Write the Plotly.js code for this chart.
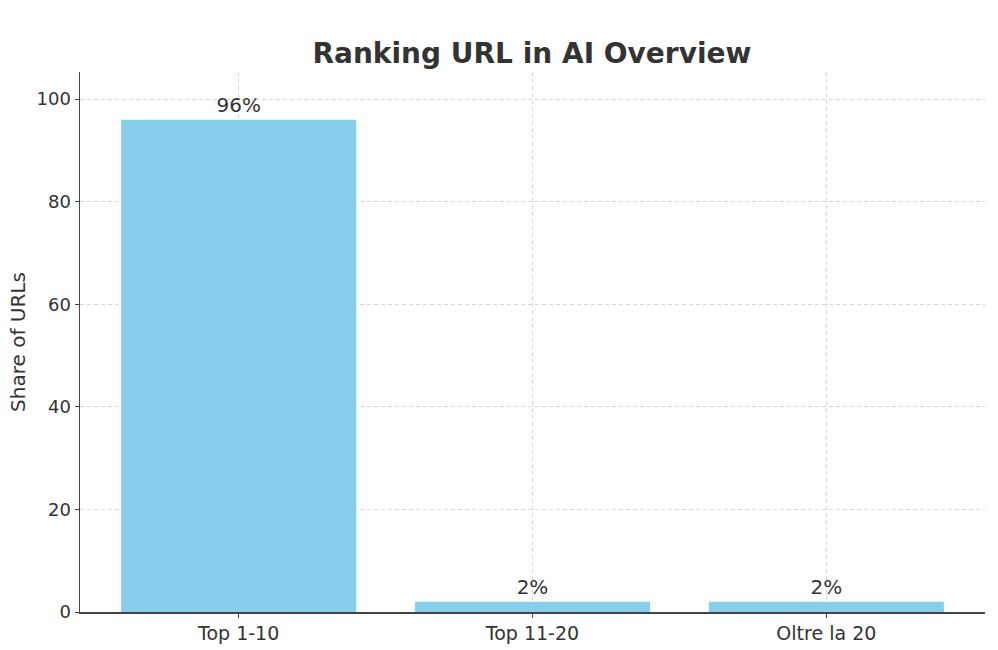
<!DOCTYPE html>
<html>
<head>
<meta charset="utf-8">
<script src="https://cdn.plot.ly/plotly-3.0.1.min.js"></script>
<style>html,body{margin:0;padding:0;background:#fff;}</style>
</head>
<body>
<div id="chart" style="width:998px;height:650px;"></div>
<script>
const categories = ["Top 1-10", "Top 11-20", "Oltre la 20"];
const shares = [96, 2, 2];
const labels = ["96%", "2%", "2%"];
const yTicks = [0, 20, 40, 60, 80, 100];

const trace = {
  type: "bar",
  x: categories,
  y: shares,
  text: labels,
  textposition: "outside",
  cliponaxis: false,
  textfont: {family: "DejaVu Sans", size: 20, color: "#333333"},
  marker: {color: "#87CEEB", line: {width: 0}},
  width: 0.8,
  hoverinfo: "skip"
};

const layout = {
  width: 998, height: 650,
  margin: {l: 80, r: 13, t: 72, b: 38},
  paper_bgcolor: "#ffffff",
  plot_bgcolor: "#ffffff",
  font: {family: "DejaVu Sans", color: "#333333"},
  title: {
    text: "<b>Ranking URL in AI Overview</b>",
    font: {family: "DejaVu Sans", size: 28, color: "#333333"},
    x: 0.533, xanchor: "center", y: 0.918, yanchor: "middle"
  },
  xaxis: {
    type: "category",
    range: [-0.54, 2.54],
    showline: true, linecolor: "#444444", linewidth: 1.5,
    ticks: "outside", ticklen: 4, tickcolor: "#444444", tickwidth: 1,
    tickfont: {family: "DejaVu Sans", size: 19, color: "#333333"},
    showgrid: true, gridcolor: "#d6d6d6", griddash: "4px,3px", gridwidth: 1,
    zeroline: false,
    layer: "above traces",
    fixedrange: true
  },
  yaxis: {
    range: [0, 105.3],
    tickvals: yTicks,
    showline: true, linecolor: "#444444", linewidth: 1.5,
    ticks: "outside", ticklen: 4, tickcolor: "#444444", tickwidth: 1,
    tickfont: {family: "DejaVu Sans", size: 18, color: "#333333"},
    showgrid: true, gridcolor: "#d6d6d6", griddash: "4px,3px", gridwidth: 1,
    zeroline: false,
    layer: "above traces",
    title: {text: "Share of URLs", font: {family: "DejaVu Sans", size: 20, color: "#333333"}, standoff: 5},
    fixedrange: true
  },
  showlegend: false,
  bargap: 0.2
};

Plotly.newPlot("chart", [trace], layout, {displayModeBar: false, staticPlot: true});
</script>
</body>
</html>
